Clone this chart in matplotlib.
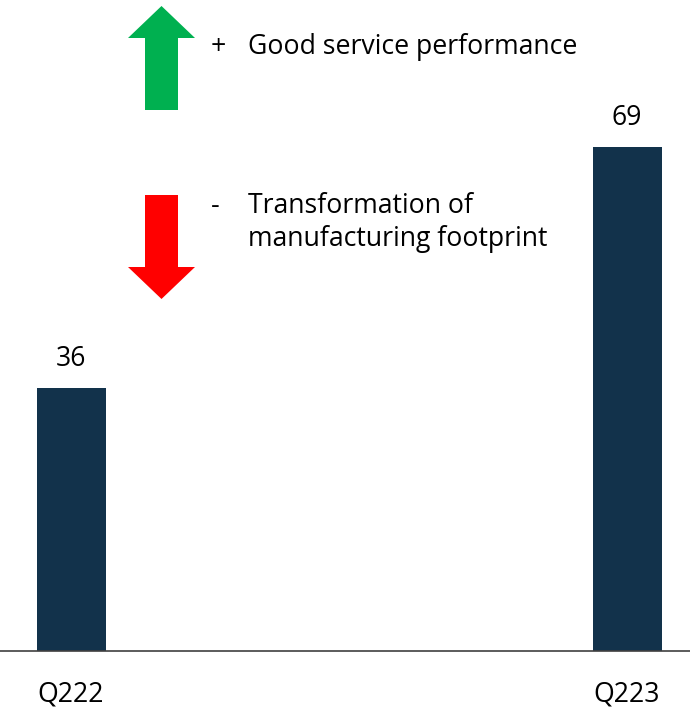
import matplotlib
matplotlib.use("Agg")
import matplotlib.pyplot as plt
from matplotlib.patches import FancyArrow

plt.rcParams["font.family"] = ["Open Sans", "DejaVu Sans"]

# --- data ---
quarters = ["Q222", "Q223"]
values   = [36, 69]
drivers  = ["Good service performance", "Transformation of\nmanufacturing footprint"]
signs    = ["+", "-"]

BAR_COLOR = "#12324B"
FS = 19.2
W, H = 690, 708

fig = plt.figure(figsize=(W / 100, H / 100), dpi=100)

# main bar axes: baseline at y=651 px, bar centres at 71 and 627 px
base_px = 651
ax = fig.add_axes([0, 1 - base_px / H, 1, base_px / H])
px_per_unit_x = 556
ax.set_xlim(-71 / px_per_unit_x, (W - 71) / px_per_unit_x)
ax.set_ylim(0, base_px / 7.3)

x = list(range(len(quarters)))
bars = ax.bar(x, values, width=69 / px_per_unit_x, color=BAR_COLOR)
for xi, v in zip(x, values):
    ax.annotate(f"{v}", (xi, v), xytext=(0, 11), textcoords="offset points",
                ha="center", va="bottom", fontsize=FS)

ax.set_xticks(x, quarters, fontsize=FS)
ax.tick_params(axis="x", length=0, pad=21)
ax.set_yticks([])
for side in ["top", "right", "left"]:
    ax.spines[side].set_visible(False)
ax.spines["bottom"].set_color("#404040")
ax.spines["bottom"].set_linewidth(1.2)

# overlay in pixel coords for the driver arrows + notes
ov = fig.add_axes([0, 0, 1, 1], facecolor="none")
ov.set_xlim(0, W)
ov.set_ylim(H, 0)
ov.axis("off")

ov.add_patch(FancyArrow(161.5, 110, 0, -104, width=33, head_width=67, head_length=32,
                        length_includes_head=True, color="#00B050", lw=0))
ov.add_patch(FancyArrow(161.5, 195, 0, 104, width=33, head_width=67, head_length=32,
                        length_includes_head=True, color="#FF0000", lw=0))

ov.text(211, 54, signs[0], fontsize=FS, va="baseline", ha="left")
ov.text(248, 54, drivers[0], fontsize=FS, va="baseline", ha="left")
ov.text(211, 213, signs[1], fontsize=FS, va="baseline", ha="left")
ov.text(248, 213, drivers[1].split("\n")[0], fontsize=FS, va="baseline", ha="left")
ov.text(248, 246, drivers[1].split("\n")[1], fontsize=FS, va="baseline", ha="left")

fig.savefig("out.png", dpi=100)
